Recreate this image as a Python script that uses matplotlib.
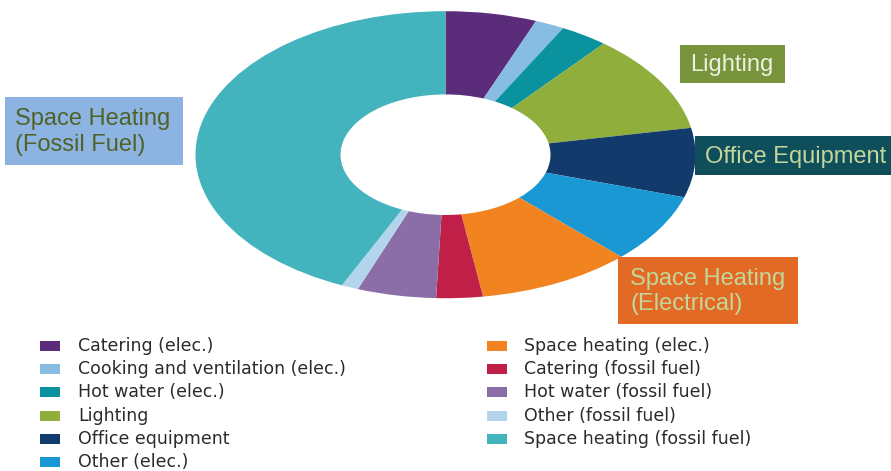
import matplotlib
matplotlib.use("Agg")
import matplotlib.pyplot as plt
from matplotlib.patches import Rectangle

# ---- data ----
categories = [
    "Catering (elec.)",
    "Cooking and ventilation (elec.)",
    "Hot water (elec.)",
    "Lighting",
    "Office equipment",
    "Other (elec.)",
    "Space heating (elec.)",
    "Catering (fossil fuel)",
    "Hot water (fossil fuel)",
    "Other (fossil fuel)",
    "Space heating (fossil fuel)",
]
shares = [5.9, 1.9, 3.1, 11.1, 7.8, 7.8, 10.0, 3.0, 5.1, 1.1, 43.2]
colors = ["#5b2c7a", "#87bce3", "#0a929f", "#8fae3c", "#123b6b", "#1a98d4",
          "#f18421", "#c01f48", "#8b6ea7", "#b3d5ec", "#43b3bd"]

callout_texts = ["Lighting", "Office Equipment", "Space Heating\n(Electrical)",
                 "Space Heating\n(Fossil Fuel)"]

W, H = 891, 471
fig = plt.figure(figsize=(W / 100, H / 100), dpi=100)
fig.patch.set_facecolor("white")

def fx(px):
    return px / W

def fy(py):
    return 1 - py / H

# ---- donut (elliptical, as in the reference) ----
cx, cy, rx, ry = 445.5, 154.7, 250, 143.5
ax = fig.add_axes([fx(cx - rx), fy(cy + ry), 2 * rx / W, 2 * ry / H])
wedges, _ = ax.pie(shares, colors=colors, startangle=90, counterclock=False,
                   radius=1.0, wedgeprops=dict(width=0.58, linewidth=0))
ax.set_aspect("auto")
ax.set_xlim(-1, 1)
ax.set_ylim(-1, 1)
ax.axis("off")

# ---- legend (two columns: 6 + 5) ----
row_y0, row_dy = 345.7, 23.3
col_marker_x = [40, 486.7]
col_text_x = [78, 524]
for i, (lab, col) in enumerate(zip(categories, colors)):
    c = 0 if i < 6 else 1
    r = i if i < 6 else i - 6
    y = row_y0 + r * row_dy
    fig.patches.append(Rectangle((fx(col_marker_x[c]), fy(y + 5)), 20 / W, 10 / H,
                                 transform=fig.transFigure, facecolor=col,
                                 edgecolor="none"))
    fig.text(fx(col_text_x[c]), fy(y), lab, ha="left", va="center",
             fontsize=12.5, family="DejaVu Sans", color="#2b2b2b")

# ---- callout boxes ----
boxes = [
    # (x0, y0, x1, y1, facecolor, textcolor, text x)
    (680, 45, 785, 83, "#77933c", "#ebf1de", 690),
    (695, 136, 891, 175, "#0f4f5c", "#c3d69b", 705),
    (618, 257, 798, 324, "#e26a25", "#c3d69b", 630),
    (5, 97, 183, 165, "#8db3e2", "#4f6228", 15),
]
for (x0, y0, x1, y1, fc, tc, tx), txt in zip(boxes, callout_texts):
    fig.patches.append(Rectangle((fx(x0), fy(y1)), (x1 - x0) / W, (y1 - y0) / H,
                                 transform=fig.transFigure, facecolor=fc,
                                 edgecolor="none"))
    fig.text(fx(tx), fy((y0 + y1) / 2 + 1), txt, ha="left", va="center",
             fontsize=17, family="Liberation Sans", color=tc, linespacing=1.2)

fig.savefig("out.png", dpi=100, facecolor="white")
